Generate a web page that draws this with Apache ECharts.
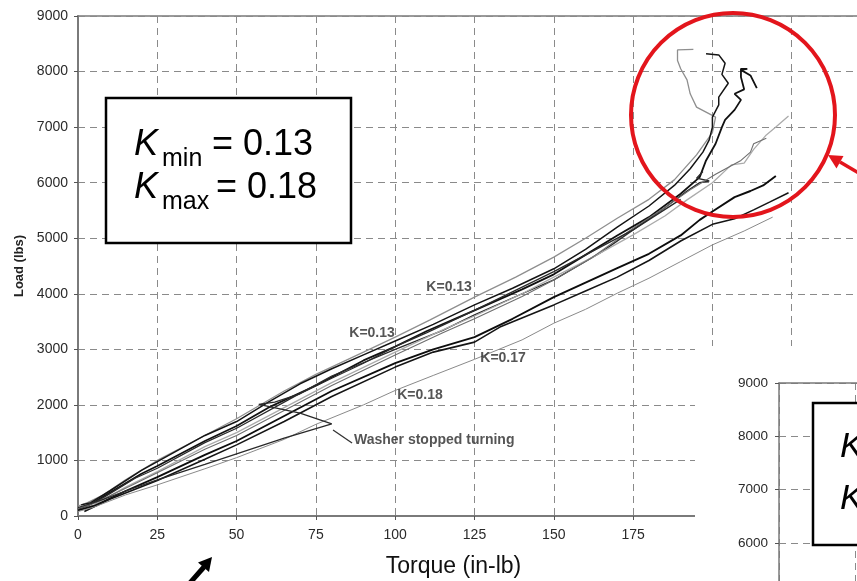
<!DOCTYPE html>
<html><head><meta charset="utf-8">
<script src="https://cdn.jsdelivr.net/npm/echarts/dist/echarts.min.js"></script>
<style>html,body{margin:0;padding:0;background:#fff}#c{width:857px;height:581px}</style>
</head><body><div id="c"></div>
<script>
// ---- data (Torque in-lb, Load lbs) ----
const curveA = [[0,180],[3,240],[8,380],[15,650],[25,1000],[35,1300],[50,1750],[65,2250],[75,2550],[90,2950],[100,3220],[111,3530],[125,3940],[138,4300],[150,4660],[160,5000],[170,5360],[180,5700],[188,6050],[195,6500],[200,6900],[201,7180],[198,7270],[195,7360],[193,7600],[192,7850],[190,8050],[189,8200],[189,8390],[194,8400]];
const curveB = [[1,200],[4,240],[10,450],[20,820],[25,980],[40,1450],[50,1700],[60,2050],[70,2380],[80,2650],[90,2900],[100,3150],[112,3450],[125,3800],[137,4100],[150,4450],[160,4800],[170,5200],[180,5580],[188,5950],[193,6250],[197,6550],[199,6770],[200,7000],[200,7180],[202,7400],[202,7540],[205,7790],[203,7950],[204,8150],[202,8300],[198,8320]];
const curveC = [[0,120],[3,180],[10,420],[20,760],[25,900],[40,1350],[50,1620],[60,1950],[75,2350],[90,2800],[100,3050],[110,3330],[125,3700],[140,4080],[150,4350],[160,4700],[170,5050],[180,5380],[190,5800],[196,6100],[198,6400],[201,6700],[203,7000],[204,7130],[207,7310],[209,7490],[207,7600],[210,7680],[209,7900],[209,8050],[211,8050],[209,8030],[212,7930],[214,7700]];
const curveD = [[2,150],[8,330],[18,680],[25,860],[40,1320],[50,1580],[65,2050],[80,2520],[100,3000],[115,3340],[125,3620],[140,4000],[150,4250],[165,4750],[175,5150],[185,5550],[192,5850],[196,6000],[199,6030],[195,6080],[197,6200]];
const curveE = [[0,100],[5,200],[15,520],[25,800],[40,1250],[50,1500],[65,1950],[80,2400],[100,2950],[115,3350],[125,3600],[140,4000],[150,4300],[162,4650],[175,5060],[185,5400],[192,5690],[200,6000],[206,6320],[210,6350],[213,6600],[217,6860],[220,7000],[222,7100],[224,7200]];
const curveF = [[0,130],[6,250],[15,500],[25,780],[40,1200],[50,1450],[65,1900],[80,2350],[100,2900],[115,3300],[125,3550],[140,3950],[150,4250],[162,4650],[175,5180],[185,5550],[193,5870],[201,6150],[209,6400],[212,6550],[213,6700],[217,6800]];
const curveG = [[0,100],[5,180],[15,450],[25,700],[40,1100],[50,1350],[65,1800],[80,2250],[100,2750],[112,3000],[125,3220],[137,3550],[150,3940],[160,4200],[170,4460],[180,4720],[190,5050],[196,5330],[200,5480],[207,5740],[212,5850],[216,5950],[220,6120]];
const curveH = [[2,80],[10,300],[25,640],[40,1020],[50,1280],[65,1700],[80,2150],[100,2680],[112,2950],[125,3130],[133,3400],[150,3800],[160,4050],[170,4300],[180,4600],[190,4950],[200,5250],[207,5350],[213,5510],[218,5650],[224,5820]];
const curveI = [[0,80],[5,160],[15,380],[25,560],[40,850],[50,1050],[65,1380],[75,1650],[90,2000],[100,2260],[112,2530],[125,2820],[140,3170],[150,3470],[160,3720],[170,4010],[180,4280],[190,4580],[200,4880],[210,5130],[219,5380]];
const curveJ = [[0,150],[8,300],[15,450],[25,650],[40,930],[50,1120],[65,1400],[80,1660],[70,1850],[57,2010],[62,2050],[70,2200],[80,2480],[90,2750],[100,3050],[110,3300],[125,3700],[150,4400],[175,5150],[190,5700]];

const annotTexts = ['K=0.13','K=0.13','K=0.17','K=0.18','Washer stopped turning'];
const annotTorque = [117.0, 92.7, 134.0, 107.8, 87.0];
const annotLoad = [4122, 3294, 2844, 2178, 1368];
const washerArrowFrom = [86.4, 1314];
const washerArrowTo = [80.4, 1548];

const xTicks = [0,25,50,75,100,125,150,175,200,225,250];
const yTicks = [0,1000,2000,3000,4000,5000,6000,7000,8000,9000];

// ---- styles ----
const curves = [curveA,curveB,curveC,curveD,curveE,curveF,curveG,curveH,curveI,curveJ];
const curveStyles = [
  {color:'#8f8f8f', width:1.3},
  {color:'#151515', width:1.5},
  {color:'#111111', width:1.8},
  {color:'#2a2a2a', width:1.3},
  {color:'#ababab', width:1.3},
  {color:'#6e6e6e', width:1.1},
  {color:'#0d0d0d', width:1.9},
  {color:'#151515', width:1.6},
  {color:'#8a8a8a', width:1.0},
  {color:'#2a2a2a', width:1.3}
];

const FONT = '"Liberation Sans", Arial, sans-serif';
const chart = echarts.init(document.getElementById('c'), null, {renderer:'canvas'});

const series = curves.map((c,i)=>({
  type:'line', xAxisIndex:0, yAxisIndex:0, data:c, symbol:'none', smooth:false,
  lineStyle:{color:curveStyles[i].color, width:curveStyles[i].width}, z:2, silent:true, animation:false
}));

series.push({
  type:'scatter', xAxisIndex:0, yAxisIndex:0, symbolSize:0, z:5, silent:true,
  data: annotTexts.map((t,i)=>({value:[annotTorque[i], annotLoad[i], t],
     label:{align: i===4 ? 'left':'center'}})),
  label:{show:true, position:'inside', formatter:p=>p.value[2], color:'#2b2b2b',
     fontSize:14, fontWeight:'bold', fontFamily:FONT},
  markLine:{silent:true, symbol:['none','arrow'], symbolSize:[0,9], label:{show:false},
     lineStyle:{color:'#333', width:1.3, type:'solid'},
     data:[[{coord:washerArrowFrom},{coord:washerArrowTo}]]}
});

const gridDash = {type:[7,5], color:'#8a8a8a', width:1};
const axisGray = '#7a7a7a';
const plain = v => String(v);

chart.setOption({
  animation:false,
  backgroundColor:'#fff',
  grid:[
    {left:78, top:16, width:793, height:500, show:true, borderColor:axisGray, borderWidth:1.5, outerBoundsMode:'none', containLabel:false},
    {left:779, top:383, width:760, height:480, show:false, outerBoundsMode:'none', containLabel:false}
  ],
  xAxis:[
    {type:'value', gridIndex:0, min:xTicks[0], max:xTicks[xTicks.length-1], interval:25,
     axisLine:{onZero:false, lineStyle:{color:axisGray, width:2}},
     axisTick:{show:true, length:4, lineStyle:{color:'#555'}},
     axisLabel:{color:'#2a2a2a', fontSize:14, margin:12, fontFamily:FONT, formatter:plain},
     splitLine:{show:true, lineStyle:gridDash},
     name:'Torque (in-lb)', nameLocation:'middle', nameGap:39,
     nameTextStyle:{fontSize:23, color:'#111', fontFamily:FONT, padding:[0,42,0,0]}},
    {type:'value', gridIndex:1, min:0, max:250, interval:25, position:'top', z:110,
     axisLine:{onZero:false, lineStyle:{color:axisGray, width:1.5}},
     axisTick:{show:false}, axisLabel:{show:false},
     splitLine:{show:true, lineStyle:gridDash}}
  ],
  yAxis:[
    {type:'value', gridIndex:0, min:yTicks[0], max:yTicks[yTicks.length-1], interval:1000,
     axisLine:{show:true, onZero:false, lineStyle:{color:axisGray, width:2}},
     axisTick:{show:true, length:4, lineStyle:{color:'#555'}},
     axisLabel:{color:'#2a2a2a', fontSize:14, margin:10, fontFamily:FONT, formatter:plain},
     splitLine:{show:true, lineStyle:gridDash},
     name:'Load (lbs)', nameLocation:'middle', nameGap:50, nameRotate:90,
     nameTextStyle:{fontSize:13, fontWeight:'bold', color:'#222', fontFamily:FONT}},
    {type:'value', gridIndex:1, min:0, max:9000, interval:1000, z:110,
     axisLine:{show:true, onZero:false, lineStyle:{color:axisGray, width:1.5}},
     axisTick:{show:true, length:4, lineStyle:{color:'#555'}},
     axisLabel:{color:'#2a2a2a', fontSize:13.5, margin:11, fontFamily:FONT, formatter:plain},
     splitLine:{show:true, lineStyle:gridDash}}
  ],
  series: series,
  graphic:{elements:[
    {type:'rect', z:100, shape:{x:695,y:346,width:170,height:240}, style:{fill:'#fff'}},
    {type:'rect', z:100, shape:{x:106,y:98,width:245,height:145}, style:{fill:'#fff', stroke:'#000', lineWidth:2.5}},
    {type:'text', z:101, style:{text:'K', x:134, y:145, fontSize:36, fontStyle:'italic', fontFamily:FONT, fill:'#000', verticalAlign:'middle'}},
    {type:'text', z:101, style:{text:'min', x:162, y:159, fontSize:25, fontFamily:FONT, fill:'#000', verticalAlign:'middle'}},
    {type:'text', z:101, style:{text:'= 0.13', x:212, y:145, fontSize:36, fontFamily:FONT, fill:'#000', verticalAlign:'middle'}},
    {type:'text', z:101, style:{text:'K', x:134, y:188, fontSize:36, fontStyle:'italic', fontFamily:FONT, fill:'#000', verticalAlign:'middle'}},
    {type:'text', z:101, style:{text:'max', x:162, y:202, fontSize:25, fontFamily:FONT, fill:'#000', verticalAlign:'middle'}},
    {type:'text', z:101, style:{text:'= 0.18', x:216, y:188, fontSize:36, fontFamily:FONT, fill:'#000', verticalAlign:'middle'}},
    {type:'rect', z:120, shape:{x:813,y:403,width:70,height:142}, style:{fill:'#fff', stroke:'#000', lineWidth:2.5}},
    {type:'text', z:121, style:{text:'K', x:840, y:447, fontSize:35, fontStyle:'italic', fontFamily:FONT, fill:'#000', verticalAlign:'middle'}},
    {type:'text', z:121, style:{text:'K', x:840, y:499, fontSize:35, fontStyle:'italic', fontFamily:FONT, fill:'#000', verticalAlign:'middle'}},
    {type:'circle', z:130, shape:{cx:733, cy:115, r:102}, style:{fill:null, stroke:'#e3151c', lineWidth:4}},
    {type:'line', z:130, shape:{x1:840, y1:162, x2:862, y2:175}, style:{stroke:'#e3151c', lineWidth:3.5}},
    {type:'polygon', z:130, shape:{points:[[828,155],[843.5,156],[836.5,168.5]]}, style:{fill:'#e3151c'}},
    {type:'line', z:130, shape:{x1:189, y1:584, x2:204, y2:567}, style:{stroke:'#000', lineWidth:5}},
    {type:'polygon', z:130, shape:{points:[[212,557],[198,562.5],[209,572]]}, style:{fill:'#000'}}
  ]}
});
</script></body></html>
